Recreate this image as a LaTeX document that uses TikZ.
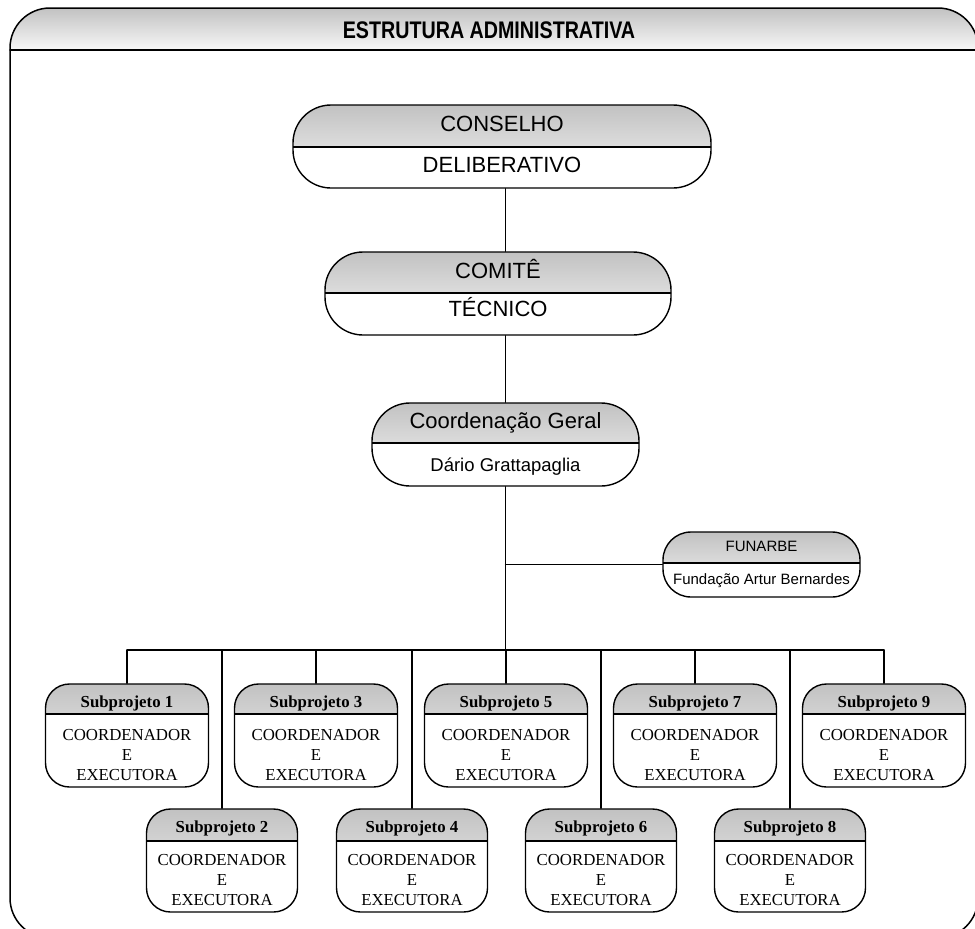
\documentclass[tikz,border=0pt]{standalone}
\usepackage{fontspec}
\setmainfont{Liberation Serif}
\setsansfont{Liberation Sans}
\newfontfamily\narrowsans{Liberation Sans}[FakeStretch=0.82]
\usetikzlibrary{calc}

\definecolor{hdrtop}{gray}{0.76}
\definecolor{hdrbot}{gray}{0.97}

\begin{document}
\begin{tikzpicture}[
  x=1pt,y=-1pt,
  line cap=round,
  line join=round,
  frame/.style={draw=black,line width=1.5pt},
  link/.style={draw=black,line width=1.1pt},
  orgbox/.style n args={4}{draw=black,line width=1.4pt,rounded corners=#1,
    minimum width=#2,minimum height=#3,inner sep=0pt,
    path picture={
      \shade[sharp corners,draw=none,top color=hdrtop,bottom color=hdrbot]
        (path picture bounding box.north west) rectangle
        ([yshift=-#4]path picture bounding box.north east);
      \draw[sharp corners,line width=1.4pt]
        ([yshift=-#4]path picture bounding box.north west) --
        ([yshift=-#4]path picture bounding box.north east);
    }},
  bigtext/.style={anchor=base,inner sep=0pt,font=\sffamily\fontsize{22}{26}\selectfont},
  nametext/.style={anchor=base,inner sep=0pt,font=\sffamily\fontsize{18.5}{22}\selectfont},
  funtext/.style={anchor=base,inner sep=0pt,font=\sffamily\fontsize{15}{18}\selectfont},
  subtext/.style={anchor=north,inner sep=0pt,align=center,font=\fontsize{16.8}{20}\selectfont}
]
  \useasboundingbox (0,0) rectangle (975,929);

  % Outer frame
  \begin{scope}
    \clip (0,0) rectangle (975,929);
    \begin{scope}
      \clip[rounded corners=40] (10,8) rectangle (978,938);
      \shade[top color=hdrtop,bottom color=hdrbot] (10,8) rectangle (978,50);
    \end{scope}
    \draw[frame] (10,50) -- (978,50);
    \draw[frame,rounded corners=40] (10,8) rectangle (978,938);
  \end{scope}
  \node[anchor=base,inner sep=0pt,font=\narrowsans\bfseries\fontsize{24}{28}\selectfont]
    (title) at (489,38) {ESTRUTURA ADMINISTRATIVA};

  % Upper boxes
  \node[orgbox={38}{418}{83}{42}] (cons) at (502,146.5) {};
  \node[bigtext] (cons-a) at ([yshift=-27pt]cons.north) {CONSELHO};
  \node[bigtext] (cons-b) at ([yshift=-68pt]cons.north) {DELIBERATIVO};

  \node[orgbox={38}{346}{83}{41}] (com) at (498,293.5) {};
  \node[bigtext] (com-a) at ([yshift=-27pt]com.north) {COMITÊ};
  \node[bigtext] (com-b) at ([yshift=-65pt]com.north) {TÉCNICO};

  \node[orgbox={38}{267}{83}{40}] (coord) at (505.5,444.5) {};
  \node[bigtext] (coord-a) at ([yshift=-26pt]coord.north) {Coordenação Geral};
  \node[nametext] (coord-b) at ([yshift=-69pt]coord.north) {Dário Grattapaglia};

  \node[orgbox={28}{197}{65}{31}] (fun) at (761.5,564.5) {};
  \node[funtext] (fun-a) at ([yshift=-20pt]fun.north) {FUNARBE};
  \node[funtext] (fun-b) at ([yshift=-53pt]fun.north) {Fundação Artur Bernardes};

  % Subprojects
  \foreach \i/\cx in {1/127,3/316,5/506,7/695,9/884}{
    \node[orgbox={24}{163}{103}{30}] (s\i) at (\cx,735.5) {};
    \node[subtext] (s\i-t) at ([yshift=-12.5pt]s\i.north)
      {\textbf{Subprojeto \i}\\[13pt]COORDENADOR\\E\\EXECUTORA};
  }
  \foreach \i/\cx in {2/222,4/412,6/601,8/790}{
    \node[orgbox={24}{151}{103}{32}] (s\i) at (\cx,860.5) {};
    \node[subtext] (s\i-t) at ([yshift=-12.5pt]s\i.north)
      {\textbf{Subprojeto \i}\\[13pt]COORDENADOR\\E\\EXECUTORA};
  }

  % Connectors
  \coordinate (bus) at (coord.south |- 0,650);
  \draw[link] (cons.south -| coord.north) -- (com.north -| coord.north);
  \draw[link] (com.south -| coord.north) -- (coord.north);
  \draw[link] (coord.south) -- (bus);
  \draw[link] (coord.south |- fun.west) -- (fun.west);
  \draw[link] (s1.north |- bus) -- (s9.north |- bus);
  \foreach \i in {1,...,9}
    \draw[link] (s\i.north |- bus) -- (s\i.north);
\end{tikzpicture}
\end{document}
